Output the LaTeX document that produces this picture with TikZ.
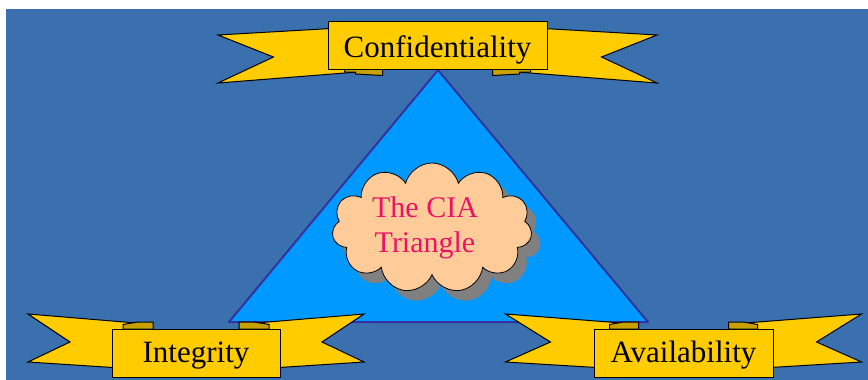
\documentclass[tikz,border=0pt]{standalone}
\usepackage{fontspec}
\setmainfont{Liberation Serif}
\usetikzlibrary{shapes.symbols}
\definecolor{bgblue}{RGB}{58,112,174}
\definecolor{triblue}{RGB}{0,153,255}
\definecolor{triedge}{RGB}{51,51,160}
\definecolor{ribbon}{RGB}{255,204,0}
\definecolor{folddark}{RGB}{200,160,0}
\definecolor{cloudfill}{RGB}{255,204,153}
\definecolor{ciared}{RGB}{235,20,100}
\begin{document}
\begin{tikzpicture}[x=1pt,y=-1pt,
  tail/.style={fill=ribbon, draw=black, line width=1pt, line join=miter},
  fold/.style={fill=folddark, draw=black, line width=1pt},
  labelbox/.style={fill=ribbon, draw=black, line width=1pt, inner sep=0pt,
    font=\fontsize{31}{37}\selectfont},
  cloudbox/.style={cloud, cloud puffs=11, cloud ignores aspect,
    minimum width=200pt, minimum height=130pt, inner sep=0pt},
]
\useasboundingbox (0,0) rectangle (868,380);
\fill[bgblue] (6,9) rectangle (868,380);

% triangle
\coordinate (apex) at (438,70);
\coordinate (bl) at (229,322);
\coordinate (br) at (648,322);
\draw[fill=triblue, draw=triedge, line width=2pt, line join=round] (apex) -- (br) -- (bl) -- cycle;

% cloud
\node[cloudbox, fill=gray] (cloudshadow) at (441,238) {};
\node[cloudbox, fill=cloudfill, draw=black, line width=0.8pt] (cloud) at (432,228) {};
\node[text=ciared, font=\fontsize{30}{35}\selectfont, align=center] (cia) at (425,228) {The CIA\\Triangle};

% top banner
\begin{scope}[shift={(437.5,0)}]
  \draw[tail] (-219.5,35) -- (-80,27) -- (-80,72) -- (-219.5,83) -- (-164,57) -- cycle;
  \draw[tail] (219.5,35) -- (80,27) -- (80,72) -- (219.5,83) -- (164,57) -- cycle;
  \draw[fold] (-93,69) -- (-55,69) -- (-55,75.5) -- (-82,74) -- (-82,72) -- (-93,72) -- cycle;
  \draw[fold] (93,69) -- (55,69) -- (55,75.5) -- (82,74) -- (82,72) -- (93,72) -- cycle;
\end{scope}
\node[labelbox, minimum width=219pt, text height=36pt, text depth=12pt] (conf) at (437.5,45) {Confidentiality};

% Integrity banner
\begin{scope}[shift={(196,0)}]
  \draw[tail] (-168,314) -- (-60,323) -- (-60,369) -- (-168,362) -- (-126,342) -- cycle;
  \draw[tail] (168,314) -- (60,323) -- (60,369) -- (168,362) -- (126,342) -- cycle;
  \draw[fold] (-73,324.5) -- (-58,322) -- (-43,322) -- (-43,329) -- (-73,329) -- cycle;
  \draw[fold] (73,324.5) -- (58,322) -- (43,322) -- (43,329) -- (73,329) -- cycle;
\end{scope}
\node[labelbox, minimum width=168pt, text height=33pt, text depth=15pt] (integ) at (196,353) {Integrity};

% Availability banner
\begin{scope}[shift={(683.5,0)}]
  \draw[tail] (-178,314) -- (-62,323) -- (-62,369) -- (-178,362) -- (-133,342) -- cycle;
  \draw[tail] (178,314) -- (62,323) -- (62,369) -- (178,362) -- (133,342) -- cycle;
  \draw[fold] (-74,324.5) -- (-60,322) -- (-45,322) -- (-45,329) -- (-74,329) -- cycle;
  \draw[fold] (74,324.5) -- (60,322) -- (45,322) -- (45,329) -- (74,329) -- cycle;
\end{scope}
\node[labelbox, minimum width=179pt, text height=33pt, text depth=15pt] (avail) at (683.5,353) {Availability};
\end{tikzpicture}
\end{document}
